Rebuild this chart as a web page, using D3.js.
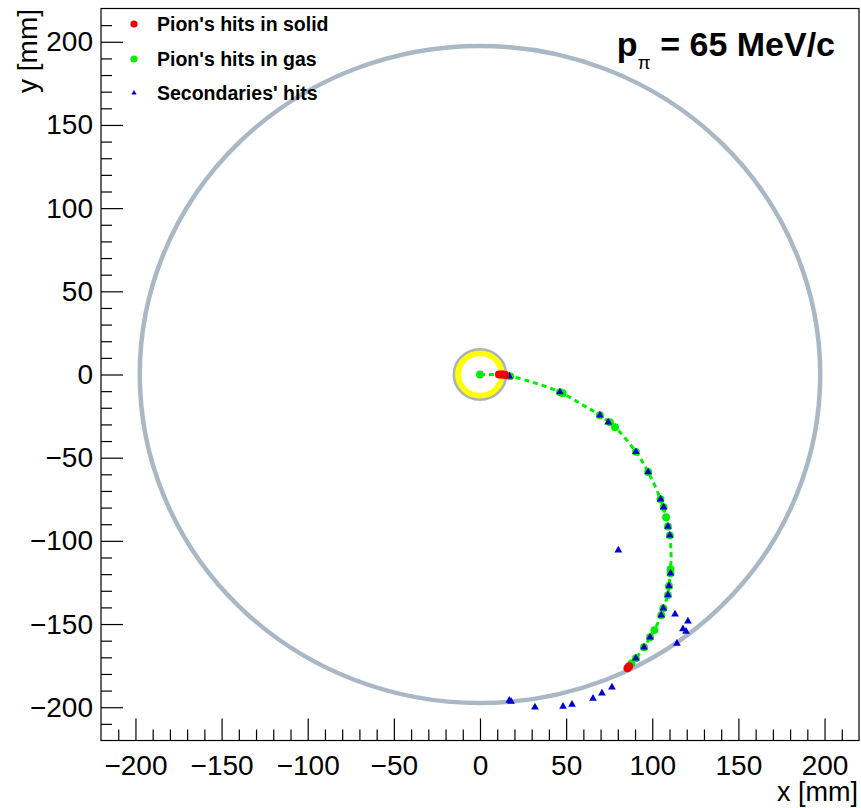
<!DOCTYPE html>
<html>
<head>
<meta charset="utf-8">
<script src="https://cdn.jsdelivr.net/npm/d3@7"></script>
<style>
  html, body { margin: 0; padding: 0; background: #fff; }
  svg { display: block; }
  text { font-family: "Liberation Sans", Arial, Helvetica, sans-serif; }
</style>
</head>
<body>
<svg id="chart" width="861" height="808"></svg>
<script>
// ---------------- data ----------------
const xDomain = [-220, 220];
const yDomain = [-220, 220];
const majorTicks = [-200, -150, -100, -50, 0, 50, 100, 150, 200];
const minorTicks = [-210,-190,-180,-170,-160,-140,-130,-120,-110,-90,-80,-70,-60,-40,-30,-20,-10,10,20,30,40,60,70,80,90,110,120,130,140,160,170,180,190,210];

const chamberRadius = 197.5;       // outer detector circle (mm)
const targetOuterRadius = 15.2;    // yellow target ring outer radius
const targetInnerRadius = 11;      // yellow target ring inner radius

// pion trajectory (dashed green)
const trajectory = [
  [0,0],[8,0],[16,-0.8],[30,-4.5],[46.4,-10.6],[60,-18.5],[69.6,-24.5],[78.4,-31.7],
  [90.5,-46.5],[97.6,-58.6],[104.8,-75],[108,-85.8],[110.2,-96.7],[110.9,-108],
  [110.6,-117],[109.7,-127.1],[107.8,-137],[105.2,-144.7],[101.2,-153.6],
  [95.2,-163.9],[90.5,-170.5],[86,-176]
];

// pion hits in solid (red)
const solidHits = [[11,0],[12.3,0],[13.5,0],[14.6,-0.3],[85.6,-176.6],[86.6,-175.4]];

// pion hits in gas (green)
const gasHits = [
  [0,0],[17.5,-1],[46.4,-10.6],[48,-11.2],[69.6,-24.5],[75.4,-28.7],[78.4,-31.7],
  [90.5,-46.5],[97.6,-58.6],[104.8,-75],[106.6,-79.8],[108,-85.8],[109.1,-91.3],
  [110.2,-96.7],[110.6,-117],[110.6,-119.5],[109.7,-127.1],[109.1,-132.6],
  [106.4,-140.5],[105.2,-144.7],[101.2,-153.6],[98.7,-157.9],[95.2,-163.9],
  [90.5,-170.5],[88,-173.5]
];

// secondaries' hits (blue triangles)
const secondaryHits = [
  [15.7,-0.6],[17,-1],[46.4,-10.6],[69.6,-24.5],[74.4,-28.7],[90.5,-46.5],[97.6,-58.6],
  [104.8,-75],[106.6,-79.8],[109.1,-91.3],[110.2,-96.7],[110.6,-119.5],[109.7,-127.1],
  [109.1,-132.6],[106.4,-140.5],[105.2,-144.7],[98.7,-157.9],[95.2,-163.9],[90.5,-170.5],
  [86,-176.2],
  [80.3,-105.6],
  [113.2,-144.1],[120.7,-148.3],[117.8,-153],[119.6,-154.5],[114.3,-161.7],
  [76.6,-188],[70.8,-191.6],[65.6,-194.7],[53.4,-198.4],[48.2,-199.5],[31.9,-200],[18,-196.5],[17,-196]
];

const legendLabels = ["Pion's hits in solid", "Pion's hits in gas", "Secondaries' hits"];

// ---------------- layout ----------------
const svg = d3.select("#chart");
const frame = { left: 101, top: 8.5, right: 859, bottom: 740.5 };
const x = d3.scaleLinear().domain(xDomain).range([frame.left, frame.right]);
const y = d3.scaleLinear().domain(yDomain).range([frame.bottom, frame.top]);

const plot = svg.append("g");

// chamber circle
plot.append("ellipse")
  .attr("cx", x(0)).attr("cy", y(0))
  .attr("rx", x(chamberRadius) - x(0)).attr("ry", y(0) - y(chamberRadius))
  .attr("fill", "none").attr("stroke", "#aab8c6").attr("stroke-width", 4.5);

// target
plot.append("ellipse")
  .attr("cx", x(0)).attr("cy", y(0))
  .attr("rx", x(targetOuterRadius) - x(0)).attr("ry", y(0) - y(targetOuterRadius))
  .attr("fill", "#ffff00").attr("stroke", "#a9b3bd").attr("stroke-width", 2.5);
plot.append("ellipse")
  .attr("cx", x(0)).attr("cy", y(0))
  .attr("rx", x(targetInnerRadius) - x(0)).attr("ry", y(0) - y(targetInnerRadius))
  .attr("fill", "#ffffff");

// trajectory
const line = d3.line().x(d => x(d[0])).y(d => y(d[1])).curve(d3.curveCatmullRom);
plot.append("path").datum(trajectory)
  .attr("d", line).attr("fill", "none")
  .attr("stroke", "#00ee00").attr("stroke-width", 3)
  .attr("stroke-dasharray", "5,4");

// gas hits
plot.append("g").selectAll("circle").data(gasHits).join("circle")
  .attr("cx", d => x(d[0])).attr("cy", d => y(d[1])).attr("r", 3.9)
  .attr("fill", "#00ee00");

// secondaries
const tri = d3.symbol().type(d3.symbolTriangle).size(26);
plot.append("g").selectAll("path").data(secondaryHits).join("path")
  .attr("d", tri)
  .attr("transform", d => `translate(${x(d[0])},${y(d[1])})`)
  .attr("fill", "#0000d0");

// solid hits
plot.append("g").selectAll("circle").data(solidHits).join("circle")
  .attr("cx", d => x(d[0])).attr("cy", d => y(d[1])).attr("r", 4)
  .attr("fill", "#ee0000");

// ---------------- axes ----------------
const tickFont = 28;
function styleAxis(g) {
  g.select(".domain").remove();
  g.selectAll("line").attr("stroke", "#000").attr("stroke-width", 1.2);
  g.selectAll("text").attr("font-size", tickFont).attr("fill", "#000")
    .attr("font-family", '"Liberation Sans", Arial, sans-serif');
}
svg.append("g").attr("transform", `translate(${frame.left},0)`)
  .call(d3.axisLeft(y).tickValues(majorTicks).tickSizeInner(-22).tickSizeOuter(0).tickPadding(8))
  .call(styleAxis);
svg.append("g").attr("transform", `translate(${frame.left},0)`)
  .call(d3.axisLeft(y).tickValues(minorTicks).tickSizeInner(-11).tickSizeOuter(0).tickFormat(""))
  .call(styleAxis);
svg.append("g").attr("transform", `translate(0,${frame.bottom})`)
  .call(d3.axisBottom(x).tickValues(majorTicks).tickSizeInner(-22).tickSizeOuter(0).tickPadding(15))
  .call(styleAxis);
svg.append("g").attr("transform", `translate(0,${frame.bottom})`)
  .call(d3.axisBottom(x).tickValues(minorTicks).tickSizeInner(-11).tickSizeOuter(0).tickFormat(""))
  .call(styleAxis);

// frame
svg.append("rect")
  .attr("x", frame.left).attr("y", frame.top)
  .attr("width", frame.right - frame.left).attr("height", frame.bottom - frame.top)
  .attr("fill", "none").attr("stroke", "#000").attr("stroke-width", 1.2);

// axis titles
svg.append("text").attr("x", 858).attr("y", 801).attr("text-anchor", "end")
  .attr("font-size", 27).text("x [mm]");
svg.append("text").attr("transform", "translate(37,9) rotate(-90)").attr("text-anchor", "end")
  .attr("font-size", tickFont).text("y [mm]");

// title
const title = svg.append("text").attr("x", 835).attr("y", 56).attr("text-anchor", "end")
  .attr("font-size", 34).attr("font-weight", "bold");
title.append("tspan").text("p");
title.append("tspan").attr("font-size", 19).attr("font-weight", "normal").attr("dy", 13).text("π");
title.append("tspan").attr("dy", -13).text(" = 65 MeV/c");

// legend
const legendY = [24, 59, 93];
const lg = svg.append("g");
lg.append("circle").attr("cx", 134).attr("cy", legendY[0]).attr("r", 3.6).attr("fill", "#ee0000");
lg.append("circle").attr("cx", 134).attr("cy", legendY[1]).attr("r", 3.6).attr("fill", "#00ee00");
lg.append("path").attr("d", d3.symbol().type(d3.symbolTriangle).size(12))
  .attr("transform", `translate(134,${legendY[2]})`).attr("fill", "#0000d0");
lg.selectAll("text.leg").data(legendLabels).join("text")
  .attr("class", "leg")
  .attr("x", 157).attr("y", (d, i) => legendY[i])
  .attr("dy", "0.36em")
  .attr("font-size", 19.5).attr("font-weight", "bold")
  .text(d => d);
</script>
</body>
</html>
